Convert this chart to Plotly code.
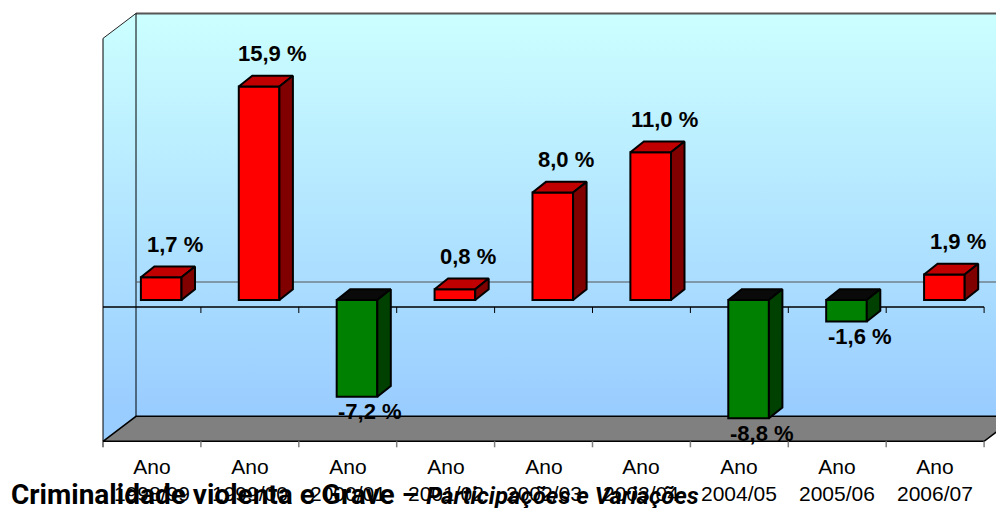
import plotly.graph_objects as go

# ---------------- data ----------------
categories = ["Ano<br>1998/99", "Ano<br>1999/00", "Ano<br>2000/01", "Ano<br>2001/02",
              "Ano<br>2002/03", "Ano<br>2003/04", "Ano<br>2004/05", "Ano<br>2005/06",
              "Ano<br>2006/07"]
variation = [1.7, 15.9, -7.2, 0.8, 8.0, 11.0, -8.8, -1.6, 1.9]
value_axis = [-10, 20]          # value range of the 3-D box
title_main = "Criminalidade violenta e Grave – "
title_sub = "Participações e Variações"

# ---------------- styling / geometry ----------------
PAGE = 8                          # default body margin of the html page
W, H = 1004 - PAGE, 508 - PAGE
PX0, PXU = 103 - PAGE, 97.9       # pixel of category 0, px per category
PY0, PYU = 300 - PAGE, 13.43      # pixel of value 0 (bar plane), px per unit
xr = [(0 - PX0) / PXU, (W - PX0) / PXU]
yr = [(PY0 - H) / PYU, PY0 / PYU]

DEPTH_X, DEPTH_Y = 33 / PXU, 25 / PYU      # full box depth
FRONT_Y = -7 / PYU                           # front plane shift
BAR_T = 0.28                                 # bar depth position in the box
BAR_DX, BAR_DY = 13.5 / PXU, 10.7 / PYU      # bar thickness
BAR_W = 0.415

def plane(t):
    return t * DEPTH_X, FRONT_Y + t * DEPTH_Y

n = len(categories)
vmin, vmax = value_axis
fx, fy = plane(0)
bx, by = plane(1)
tx, ty = plane(BAR_T)

fig = go.Figure()

WALL_SCALE = [[0, "#99CCFF"], [1, "#CCFFFF"]]

# back wall
fig.add_trace(go.Scatter(
    x=[bx, bx + n + 1, bx + n + 1, bx, bx],
    y=[vmin + by, vmin + by, vmax + by, vmax + by, vmin + by],
    mode="lines", line=dict(width=0), fill="toself",
    fillgradient=dict(type="vertical", colorscale=WALL_SCALE,
                      start=vmin + by, stop=vmax + by),
    hoverinfo="skip", showlegend=False))
# left wall
fig.add_trace(go.Scatter(
    x=[fx, bx, bx, fx, fx],
    y=[vmin + fy, vmin + by, vmax + by, vmax + fy, vmin + fy],
    mode="lines", line=dict(width=0), fill="toself",
    fillgradient=dict(type="vertical", colorscale=WALL_SCALE,
                      start=vmin + by, stop=vmax + by),
    hoverinfo="skip", showlegend=False))
# floor
fig.add_trace(go.Scatter(
    x=[fx, fx + n, bx + n, bx + n + 1, bx, fx],
    y=[vmin + fy, vmin + fy, vmin + by, vmin + by, vmin + by, vmin + fy],
    mode="lines", line=dict(color="black", width=1.5), fill="toself",
    fillcolor="#808080", hoverinfo="skip", showlegend=False))

def seg(x0, y0, x1, y1, color, width):
    fig.add_trace(go.Scatter(x=[x0, x1], y=[y0, y1], mode="lines",
                             line=dict(color=color, width=width),
                             hoverinfo="skip", showlegend=False))

tick = 6 / PYU
# wall edges
seg(bx, vmax + by, bx + n + 1, vmax + by, "#555555", 2)
seg(fx, vmax + fy, bx, vmax + by, "#222222", 1)
seg(fx, vmax + fy, fx, vmin + fy - tick, "black", 1)
seg(bx, vmax + by, bx, vmin + by, "black", 1)
# back zero gridline
seg(bx, by, bx + n + 1, by, "#555555", 1)
# front zero axis with ticks
seg(fx, fy, fx + n, fy, "black", 1.5)
for i in range(1, n + 1):
    seg(fx + i, fy, fx + i, fy - tick, "black", 1)
# floor front ticks
for i in range(1, n + 1):
    seg(fx + i, vmin + fy, fx + i, vmin + fy - tick, "#808080", 1.5)

# ---------------- bars (overlay subplot, drawn above walls) ----------------
centers = [i + 0.5 + tx for i in range(n)]
front_colors = ["#FF0000" if v >= 0 else "#008000" for v in variation]
fig.add_trace(go.Bar(x=centers, y=variation, width=BAR_W,
                     marker=dict(color=front_colors, line=dict(color="black", width=2)),
                     xaxis="x2", yaxis="y2", hoverinfo="skip", showlegend=False))

faces = {"top_pos": ([], [], "#C00000"), "side_pos": ([], [], "#800000"),
         "top_neg": ([], [], "#0A0A0A"), "side_neg": ([], [], "#004000")}
for c, v in zip(centers, variation):
    xl, xrr = c - BAR_W / 2, c + BAR_W / 2
    hi, lo = max(v, 0), min(v, 0)
    key = "pos" if v >= 0 else "neg"
    X, Y, _ = faces["top_" + key]
    X += [xl, xrr, xrr + BAR_DX, xl + BAR_DX, xl, None]
    Y += [hi, hi, hi + BAR_DY, hi + BAR_DY, hi, None]
    X, Y, _ = faces["side_" + key]
    X += [xrr, xrr + BAR_DX, xrr + BAR_DX, xrr, xrr, None]
    Y += [lo, lo + BAR_DY, hi + BAR_DY, hi, lo, None]
for X, Y, col in faces.values():
    fig.add_trace(go.Scatter(x=X, y=Y, mode="lines", fill="toself", fillcolor=col,
                             line=dict(color="black", width=2),
                             xaxis="x2", yaxis="y2", hoverinfo="skip", showlegend=False))

# data labels
for c, v in zip(centers, variation):
    txt = f"{v:.1f}".replace(".", ",") + " %"
    fig.add_annotation(x=c + BAR_DX, y=v, xref="x2", yref="y2", text=f"<b>{txt}</b>",
                       showarrow=False, yanchor="middle",
                       yshift=33 if v >= 0 else -15,
                       font=dict(family="Liberation Sans, Arial, sans-serif", size=22,
                                 color="black"))

# category labels
for i, cat in enumerate(categories):
    fig.add_annotation(x=fx + i + 0.5, y=vmin + fy, xref="x", yref="y", text=cat,
                       showarrow=False, yanchor="top", yshift=-12,
                       font=dict(family="Liberation Sans, Arial, sans-serif", size=21,
                                 color="black"))

# title
fig.add_annotation(
    x=(9 - PAGE) / W, y=0, xref="paper", yref="paper", xanchor="left", yanchor="bottom",
    showarrow=False, yshift=-5,
    text=(f"<b>{title_main}</b>"
          f"<b><i><span style='font-size:24px'>{title_sub}</span></i></b>"),
    font=dict(family="Roboto, Liberation Sans, sans-serif", size=28, color="black"))

axis_common = dict(visible=False, fixedrange=True)
fig.update_layout(
    width=W, height=H, margin=dict(l=0, r=0, t=0, b=0),
    paper_bgcolor="white", plot_bgcolor="rgba(0,0,0,0)",
    xaxis=dict(range=xr, **axis_common),
    yaxis=dict(range=yr, **axis_common),
    xaxis2=dict(range=xr, overlaying="x", **axis_common),
    yaxis2=dict(range=yr, overlaying="y", **axis_common),
    barmode="overlay", showlegend=False,
)

fig.write_html("out.html")
